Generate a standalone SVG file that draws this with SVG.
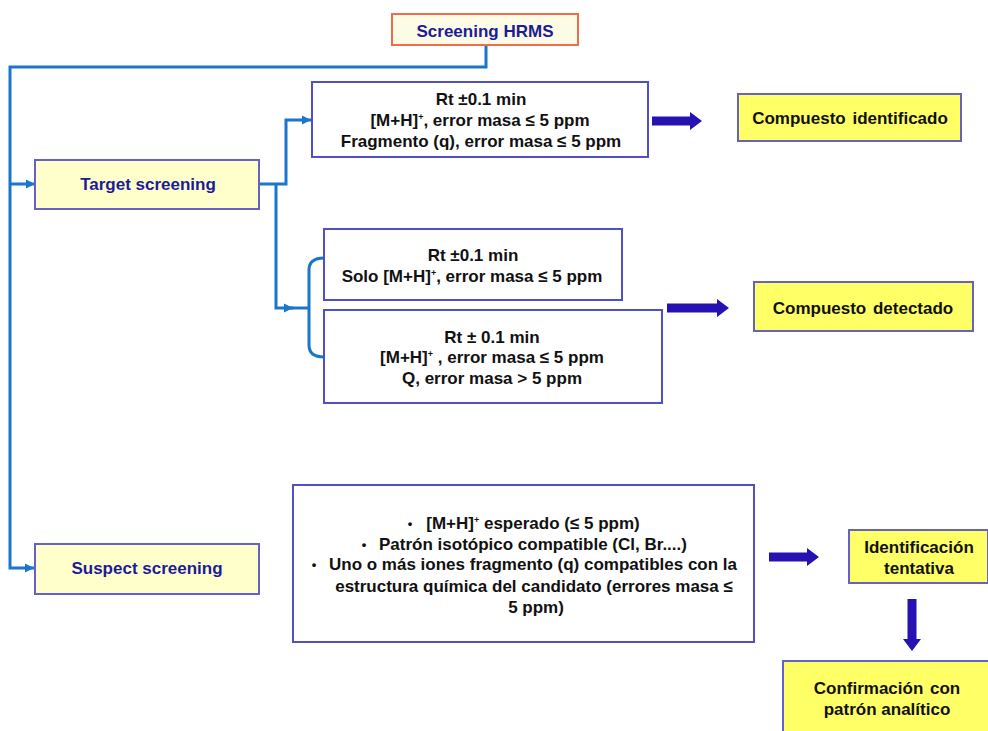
<svg xmlns="http://www.w3.org/2000/svg" width="988" height="731" viewBox="0 0 988 731">
<style>
text{font-family:"Liberation Sans",Arial,sans-serif;font-weight:bold;font-size:17px;text-anchor:middle;fill:#111}
.nav{fill:#1c1c96}
.pale{fill:#ffffcc;stroke:#6262c8;stroke-width:2}
.yel{fill:#ffff66;stroke:#6262c8;stroke-width:2}
.wht{fill:#ffffff;stroke:#5050c0;stroke-width:2}
.con{fill:none;stroke:#1a76cc;stroke-width:3}
.blk{fill:#2612b2}
.sup{font-size:9px}
.bul{font-size:13px}
</style>
<defs>
<marker id="ah" markerUnits="userSpaceOnUse" markerWidth="10" markerHeight="10" refX="9" refY="5" orient="auto">
<path d="M0,0.5 L9,5 L0,9.5 Z" fill="#1a76cc"/>
</marker>
</defs>
<rect width="988" height="731" fill="#ffffff"/>
<g id="connectors">
<path class="con" d="M486,45 V67 H10 V568 H34" marker-end="url(#ah)"/>
<path class="con" d="M10,184 H35" marker-end="url(#ah)"/>
<path class="con" d="M259,184 H286 V120 H311" marker-end="url(#ah)"/>
<path class="con" d="M276,184 V308 H293" marker-end="url(#ah)"/>
<path class="con" d="M290,308 H309"/>
<path class="con" d="M324,258 Q309,258 309,270 V345 Q309,357 324,357"/>
<path class="blk" d="M652,116.5 H690 V112 L702,121 L690,130 V125.5 H652 Z"/>
<path class="blk" d="M667,303.5 H717 V299 L729,308 L717,317 V312.5 H667 Z"/>
<path class="blk" d="M769,552.5 H807 V548 L819,557 L807,566 V561.5 H769 Z"/>
<path class="blk" d="M907.5,599 V639 H903 L912,651 L921,639 H916.5 V599 Z"/>
</g>
<g id="hrms">
<rect x="392" y="14" width="186" height="31" fill="#fbfbe6" stroke="#f26b4a" stroke-width="2"/>
<text x="485" y="37" class="nav">Screening HRMS</text>
</g>
<g id="target">
<rect class="pale" x="35" y="160" width="224" height="49"/>
<text x="148" y="190" class="nav">Target screening</text>
</g>
<g id="suspect">
<rect class="pale" x="35" y="544" width="224" height="50"/>
<text x="147" y="574" class="nav">Suspect screening</text>
</g>
<g id="crit1">
<rect class="wht" x="312" y="82" width="336" height="75"/>
<text x="481" y="105">Rt ±0.1 min</text>
<text x="480" y="126">[M+H]<tspan class="sup" dy="-6">+</tspan><tspan dy="6">, error masa ≤ 5 ppm</tspan></text>
<text x="481" y="147">Fragmento (q), error masa ≤ 5 ppm</text>
</g>
<g id="crit2">
<rect class="wht" x="324" y="229" width="298" height="71"/>
<text x="473" y="261">Rt ±0.1 min</text>
<text x="472" y="282">Solo [M+H]<tspan class="sup" dy="-6">+</tspan><tspan dy="6">, error masa ≤ 5 ppm</tspan></text>
</g>
<g id="crit3">
<rect class="wht" x="324" y="310" width="338" height="93"/>
<text x="492" y="343">Rt ± 0.1 min</text>
<text x="492" y="363">[M+H]<tspan class="sup" dy="-6">+</tspan><tspan dy="6"> , error masa ≤ 5 ppm</tspan></text>
<text x="492" y="384">Q, error masa &gt; 5 ppm</text>
</g>
<g id="ident">
<rect class="yel" x="738" y="94" width="223" height="47"/>
<text x="850" y="124" word-spacing="2">Compuesto identificado</text>
</g>
<g id="detect">
<rect class="yel" x="754" y="282" width="219" height="49"/>
<text x="863" y="314" word-spacing="2">Compuesto detectado</text>
</g>
<g id="crit4">
<rect class="wht" x="293" y="485" width="461" height="157"/>
<text x="410" y="528" class="bul">•</text>
<text x="533" y="529">[M+H]<tspan class="sup" dy="-6">+</tspan><tspan dy="6"> esperado (≤ 5 ppm)</tspan></text>
<text x="364" y="549" class="bul">•</text>
<text x="533" y="550">Patrón isotópico compatible (Cl, Br....)</text>
<text x="314" y="569" class="bul">•</text>
<text x="533" y="570">Uno o más iones fragmento (q) compatibles con la</text>
<text x="534" y="592">estructura química del candidato (errores masa ≤</text>
<text x="536" y="613">5 ppm)</text>
</g>
<g id="tentativa">
<rect class="yel" x="849" y="530" width="139" height="53"/>
<text x="919" y="553">Identificación</text>
<text x="919" y="574">tentativa</text>
</g>
<g id="confirm">
<rect class="yel" x="783" y="661" width="210" height="75"/>
<text x="887" y="694" word-spacing="2">Confirmación con</text>
<text x="887" y="715">patrón analítico</text>
</g>
</svg>
